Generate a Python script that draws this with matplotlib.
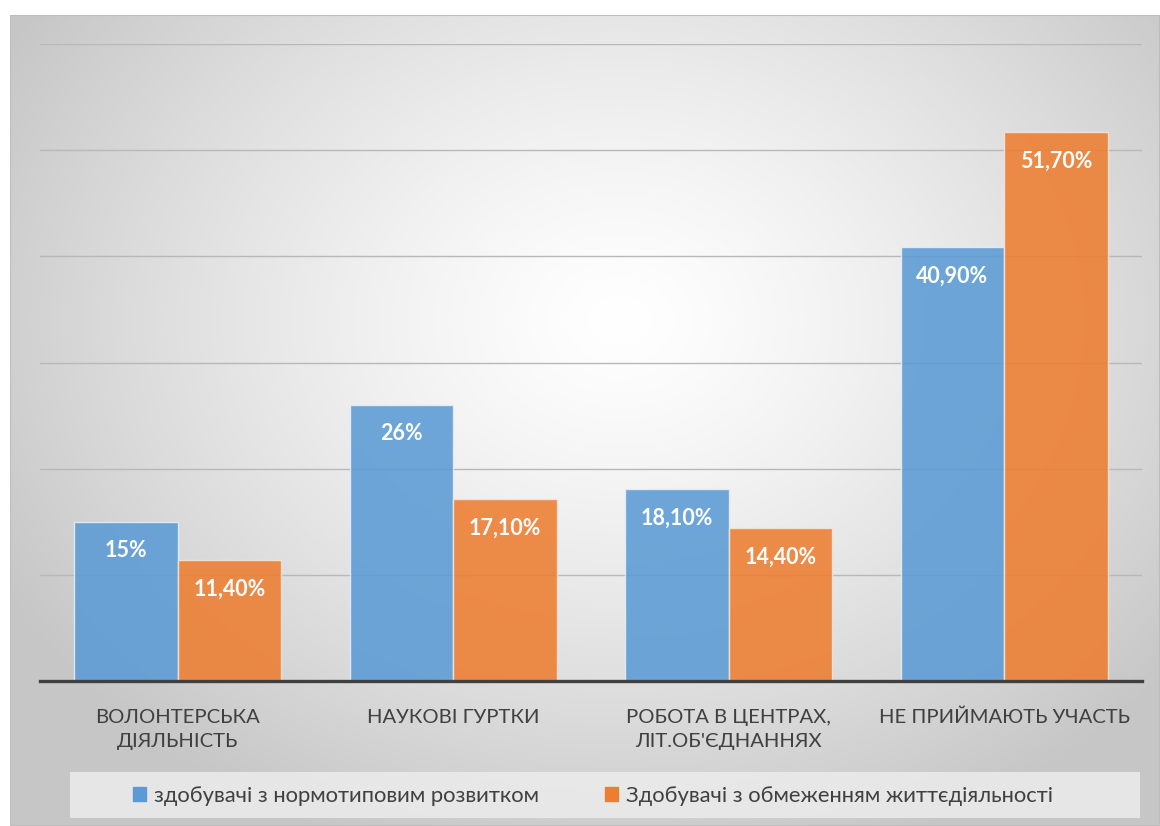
import numpy as np
import matplotlib
matplotlib.use("Agg")
import matplotlib.pyplot as plt
from matplotlib.patches import Rectangle

categories = ["ВОЛОНТЕРСЬКА\nДІЯЛЬНІСТЬ", "НАУКОВІ ГУРТКИ",
              "РОБОТА В ЦЕНТРАХ,\nЛІТ.ОБ'ЄДНАННЯХ", "НЕ ПРИЙМАЮТЬ УЧАСТЬ"]
series_names = ["здобувачі з нормотиповим розвитком",
                "Здобувачі з обмеженням життєдіяльності"]
normal_vals = [15.0, 26.0, 18.1, 40.9]
limited_vals = [11.4, 17.1, 14.4, 51.7]
normal_labels = ["15%", "26%", "18,10%", "40,90%"]
limited_labels = ["11,40%", "17,10%", "14,40%", "51,70%"]

FONT = ["Lato", "DejaVu Sans"]
plt.rcParams['font.family'] = FONT

W, H = 1160, 826
fig = plt.figure(figsize=(W / 100, H / 100), dpi=100)
fig.patch.set_facecolor("white")

# background radial gradient for chart frame
x0, y0 = 10, 15
bg = fig.add_axes([x0 / W, 0, 1 - x0 / W, 1 - y0 / H])
bg.set_axis_off()
nx, ny = 400, 300
xs = np.linspace(x0, W, nx)
ys = np.linspace(y0, H, ny)
X, Y = np.meshgrid(xs, ys)
cx, cy = 620, 320
r = np.sqrt(((X - cx) / 700) ** 2 + ((Y - cy) / 560) ** 2)
r = np.clip(r, 0, 1)
v = 1.0 - 0.22 * r ** 1.3
img = np.dstack([v, v, v])
bg.imshow(img, extent=[0, 1, 0, 1], aspect="auto", origin="upper")
bg.set_xlim(0, 1); bg.set_ylim(0, 1)
bg.add_patch(Rectangle((0, 0), 1, 1, fill=False, edgecolor="#bdbdbd",
                       linewidth=1.5, transform=bg.transAxes))

ax = fig.add_axes([40 / W, 1 - 681 / H, (1142 - 40) / W, (681 - 44) / H])
ax.set_facecolor("none")
ax.set_xlim(-0.5, 3.5)
ax.set_ylim(0, 60)
ax.set_yticks(np.arange(10, 61, 10))
ax.yaxis.grid(True, color="#b8b8b8", linewidth=1.0)
ax.set_axisbelow(True)
ax.tick_params(axis="y", length=0, labelleft=False)
ax.tick_params(axis="x", length=0, pad=20)
for s in ["top", "right", "left"]:
    ax.spines[s].set_visible(False)
ax.spines["bottom"].set_color("#404040")
ax.spines["bottom"].set_linewidth(2.4)

x = np.arange(len(categories))
w = 0.376
b1 = ax.bar(x - w / 2, normal_vals, w, color="#5B9BD5", alpha=0.88,
            edgecolor="#e8eef5", linewidth=1.0, label=series_names[0])
b2 = ax.bar(x + w / 2, limited_vals, w, color="#ED7D31", alpha=0.88,
            edgecolor="#f5e6dc", linewidth=1.0, label=series_names[1])

for bars, labels in ((b1, normal_labels), (b2, limited_labels)):
    for rect, lab in zip(bars, labels):
        ax.annotate(lab, (rect.get_x() + rect.get_width() / 2, rect.get_height()),
                    xytext=(0, -29), textcoords="offset pixels",
                    ha="center", va="center", color="white",
                    fontsize=15.5, fontweight="bold")

ax.set_xticks(x)
ax.set_xticklabels(categories, fontsize=14.6, color="#404040", linespacing=1.5)
for t in ax.get_xticklabels():
    t.set_va("top")

# legend box
fig.patches.append(Rectangle((70 / W, 1 - 818 / H), (1140 - 70) / W, 46 / H,
                             transform=fig.transFigure, facecolor="#ececec",
                             edgecolor="none", alpha=0.85, zorder=1))
handles = [Rectangle((0, 0), 1, 1, color="#5B9BD5"),
           Rectangle((0, 0), 1, 1, color="#ED7D31")]
leg = fig.legend(handles, series_names, loc="center",
                 bbox_to_anchor=(593 / W, 1 - 796 / H), ncol=2, frameon=False,
                 fontsize=15.8, handlelength=0.6, handleheight=0.6,
                 handletextpad=0.35, columnspacing=3.0, labelcolor="#404040")

fig.savefig("out.png", dpi=100)
